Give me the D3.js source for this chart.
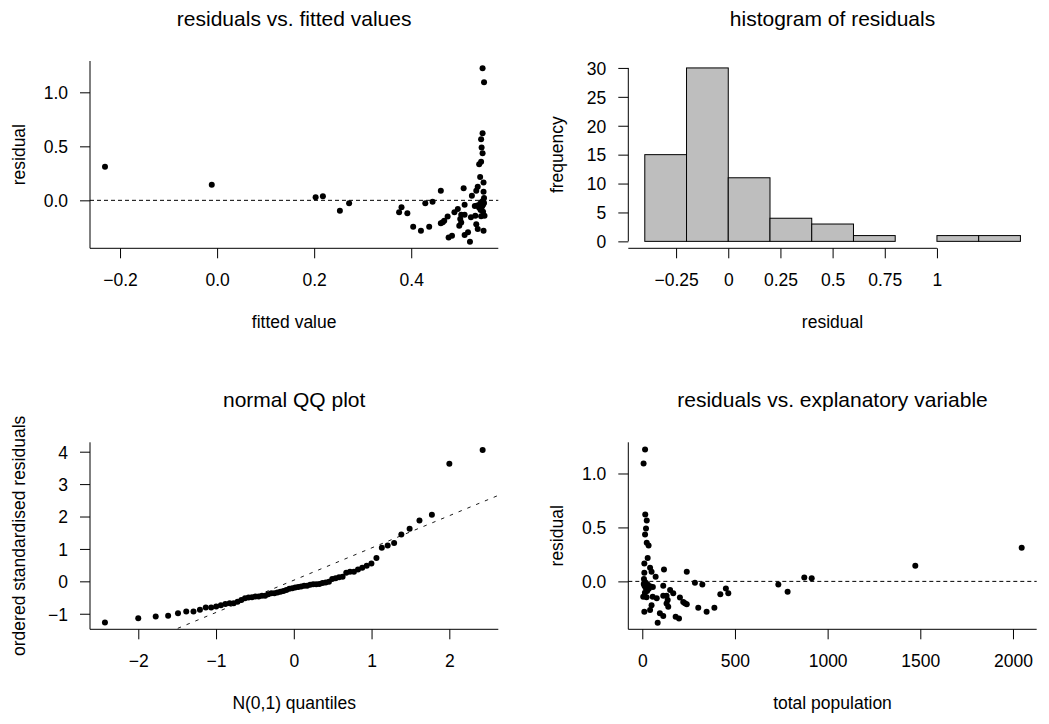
<!DOCTYPE html>
<html><head><meta charset="utf-8">
<script src="https://cdn.jsdelivr.net/npm/d3@7"></script>
<style>body{margin:0;background:#fff} svg text{font-family:"Liberation Sans",Arial,sans-serif}</style>
</head><body><svg id="c" width="1049" height="724"></svg>
<script>
// ---------------- data ----------------
const population = [7,15,16,24,20,15,24,34,2047,29,11,1473,42,117,50,240,11,72,874,914,9,13,20,8,284,734,324,30,12,113,45,57,18,451,35,150,26,784,14,464,167,421,113,131,5,56,23,203,78,137,221,131,230,240,50,140,302,389,42,11,347,95,113,180,198,83];
const residuals = [1.093,1.222,0.620,0.565,0.490,0.435,0.357,0.333,0.312,0.216,0.166,0.145,0.126,0.111,0.089,0.089,0.080,0.043,0.037,0.028,0.022,-0.004,-0.015,-0.025,-0.012,-0.028,-0.028,-0.032,-0.040,-0.040,-0.048,-0.052,-0.058,-0.065,-0.068,-0.080,-0.090,-0.096,-0.105,-0.111,-0.111,-0.120,-0.133,-0.133,-0.142,-0.142,-0.148,-0.150,-0.157,-0.173,-0.190,-0.205,-0.203,-0.212,-0.222,-0.235,-0.244,-0.244,-0.265,-0.281,-0.281,-0.296,-0.321,-0.327,-0.343,-0.383];
const fittedValues = [0.550,0.547,0.547,0.544,0.545,0.547,0.544,0.540,-0.231,0.542,0.549,-0.011,0.537,0.508,0.534,0.461,0.549,0.525,0.218,0.203,0.550,0.548,0.545,0.550,0.444,0.272,0.429,0.542,0.548,0.510,0.536,0.531,0.546,0.380,0.540,0.496,0.543,0.253,0.548,0.375,0.489,0.392,0.510,0.503,0.551,0.532,0.544,0.475,0.523,0.501,0.468,0.503,0.465,0.461,0.534,0.499,0.437,0.404,0.537,0.549,0.420,0.517,0.510,0.484,0.477,0.521];
const histBreaks = [-0.4,-0.2,0,0.2,0.4,0.6,0.8,1.0,1.2,1.4];
const histCounts = [15,30,11,4,3,1,0,1,1];
const residualSD = 0.3015;
const qqLineIntercept = 0.035;
const qqLineSlope = 0.995;
const fittedTicks = [-0.2,0,0.2,0.4];
const residTicks = [0,0.5,1.0];
const histXTicks = [-0.25,0,0.25,0.5,0.75,1];
const histXLabels = ["\u22120.25","0","0.25","0.5","0.75","1"];
const histYTicks = [0,5,10,15,20,25,30];
const qqXTicks = [-2,-1,0,1,2];
const qqYTicks = [-1,0,1,2,3,4];
const popTicks = [0,500,1000,1500,2000];

// ---------------- layout ----------------
const svg = d3.select("#c");
svg.append("rect").attr("width",1049).attr("height",724).attr("fill","#fff");
const L1 = 90, R1 = 498.3, L2 = 628.3, R2 = 1036.7;
const T1 = 61, B1 = 248.3, T2 = 442.3, B2 = 629.3;
const FS = 17.5, TFS = 21;
const minus = s => String(s).replace(/-/g, "\u2212");

function bottomAxis(scale, ticks, fmt, yPos) {
  const ax = svg.append("g").attr("transform", `translate(0,${yPos})`)
    .call(d3.axisBottom(scale).tickValues(ticks).tickFormat(fmt).tickSize(10).tickSizeOuter(0));
  ax.select(".domain").remove();
  ax.attr("font-size", null).attr("font-family", null);
  ax.selectAll(".tick line").attr("stroke", "#000");
  ax.selectAll(".tick text").attr("y", 37.3).attr("dy", null).attr("font-size", FS).attr("fill", "#000");
  return ax;
}
function leftAxis(scale, ticks, fmt, xPos) {
  const ax = svg.append("g").attr("transform", `translate(${xPos},0)`)
    .call(d3.axisLeft(scale).tickValues(ticks).tickFormat(fmt).tickSize(10).tickPadding(12).tickSizeOuter(0));
  ax.select(".domain").remove();
  ax.attr("font-size", null).attr("font-family", null);
  ax.selectAll(".tick line").attr("stroke", "#000");
  ax.selectAll(".tick text").attr("dy", "0.36em").attr("font-size", FS).attr("fill", "#000");
  return ax;
}
function line(x1, y1, x2, y2, dash) {
  const l = svg.append("line").attr("x1", x1).attr("y1", y1).attr("x2", x2).attr("y2", y2)
    .attr("stroke", "#000").attr("stroke-width", 1);
  if (dash) l.attr("stroke-dasharray", dash);
  return l;
}
function lShape(l, r, t, b) { line(l, t, l, b); line(l, b, r, b); }
function title(txt, cx, y) {
  svg.append("text").attr("x", cx).attr("y", y).attr("text-anchor", "middle").attr("font-size", TFS).text(txt);
}
function xlab(txt, cx, y) {
  svg.append("text").attr("x", cx).attr("y", y).attr("text-anchor", "middle").attr("font-size", FS).text(txt);
}
function ylab(txt, x, cy) {
  svg.append("text").attr("transform", `translate(${x},${cy}) rotate(-90)`).attr("text-anchor", "middle")
    .attr("font-size", FS).text(txt);
}
function points(data, x, y, fx, fy) {
  svg.append("g").selectAll("circle").data(data).join("circle")
    .attr("cx", d => x(fx(d))).attr("cy", d => y(fy(d))).attr("r", 3).attr("fill", "#000");
}
const idx = d3.range(residuals.length);

// ---------------- panel 1: residuals vs fitted ----------------
{
  const x = d3.scaleLinear().domain([-0.2619, 0.5794]).range([L1, R1]);
  const y = d3.scaleLinear().domain([-0.444, 1.290]).range([B1, T1]);
  lShape(L1, R1, T1, B1);
  bottomAxis(x, fittedTicks, d => minus(d3.format(".1f")(d)), B1);
  leftAxis(y, residTicks, d => minus(d3.format(".1f")(d)), L1);
  line(L1, y(0), R1, y(0), "4,3");
  points(idx, x, y, i => fittedValues[i], i => residuals[i]);
  title("residuals vs. fitted values", (L1 + R1) / 2, T1 - 35);
  xlab("fitted value", (L1 + R1) / 2, B1 + 80);
  ylab("residual", L1 - 65.5, (T1 + B1) / 2);
}

// ---------------- panel 2: histogram ----------------
{
  const x = d3.scaleLinear().domain([-0.479, 1.478]).range([L2, R2]);
  const y = d3.scaleLinear().domain([-1.2, 31.2]).range([B1, T1]);
  const bins = histCounts.map((c, i) => ({x0: histBreaks[i], x1: histBreaks[i + 1], c}));
  svg.append("g").selectAll("rect").data(bins.filter(b => b.c > 0)).join("rect")
    .attr("x", b => x(b.x0)).attr("width", b => x(b.x1) - x(b.x0))
    .attr("y", b => y(b.c)).attr("height", b => y(0) - y(b.c))
    .attr("fill", "#bebebe").attr("stroke", "#000").attr("stroke-width", 1);
  line(L2, y(0), L2, y(30));
  line(L2, B1, x(1), B1);
  bottomAxis(x, histXTicks, (d, i) => histXLabels[i], B1);
  leftAxis(y, histYTicks, d3.format("d"), L2);
  title("histogram of residuals", (L2 + R2) / 2, T1 - 35);
  xlab("residual", (L2 + R2) / 2, B1 + 80);
  ylab("frequency", L2 - 65.5, (T1 + B1) / 2);
}

// ---------------- panel 3: normal QQ plot ----------------
{
  // inverse standard normal CDF (Acklam) for theoretical quantiles
  function qnorm(p) {
    const a = [-39.6968302866538, 220.946098424521, -275.928510446969, 138.357751867269, -30.6647980661472, 2.50662827745924];
    const b = [-54.4760987982241, 161.585836858041, -155.698979859887, 66.8013118877197, -13.2806815528857];
    const c = [-0.00778489400243029, -0.322396458041136, -2.40075827716184, -2.54973253934373, 4.37466414146497, 2.93816398269878];
    const d = [0.00778469570904146, 0.32246712907004, 2.445134137143, 3.75440866190742];
    const pl = 0.02425;
    let q, r;
    if (p < pl) { q = Math.sqrt(-2 * Math.log(p));
      return (((((c[0]*q+c[1])*q+c[2])*q+c[3])*q+c[4])*q+c[5]) / ((((d[0]*q+d[1])*q+d[2])*q+d[3])*q+1); }
    if (p > 1 - pl) { q = Math.sqrt(-2 * Math.log(1 - p));
      return -(((((c[0]*q+c[1])*q+c[2])*q+c[3])*q+c[4])*q+c[5]) / ((((d[0]*q+d[1])*q+d[2])*q+d[3])*q+1); }
    q = p - 0.5; r = q * q;
    return (((((a[0]*r+a[1])*r+a[2])*r+a[3])*r+a[4])*r+a[5])*q / (((((b[0]*r+b[1])*r+b[2])*r+b[3])*r+b[4])*r+1);
  }
  const n = residuals.length;
  const sorted = residuals.map(r => r / residualSD).sort(d3.ascending);
  const qq = sorted.map((v, i) => ({q: qnorm((i + 0.5) / n), v}));
  const x = d3.scaleLinear().domain([-2.621, 2.63]).range([L1, R1]);
  const y = d3.scaleLinear().domain([-1.48, 4.29]).range([B2, T2]);
  svg.append("clipPath").attr("id", "qqclip").append("rect")
    .attr("x", L1).attr("y", T2).attr("width", R1 - L1).attr("height", B2 - T2);
  const xs = x.domain();
  line(x(xs[0]), y(qqLineIntercept + qqLineSlope * xs[0]), x(xs[1]), y(qqLineIntercept + qqLineSlope * xs[1]), "3.5,6")
    .attr("clip-path", "url(#qqclip)").attr("stroke-width", 0.9);
  lShape(L1, R1, T2, B2);
  bottomAxis(x, qqXTicks, d => minus(d), B2);
  leftAxis(y, qqYTicks, d => minus(d), L1);
  points(qq, x, y, d => d.q, d => d.v);
  title("normal QQ plot", (L1 + R1) / 2, T2 - 35);
  xlab("N(0,1) quantiles", (L1 + R1) / 2, B2 + 80);
  ylab("ordered standardised residuals", L1 - 65.5, (T2 + B2) / 2);
}

// ---------------- panel 4: residuals vs explanatory ----------------
{
  const x = d3.scaleLinear().domain([-75.5, 2128]).range([L2, R2]);
  const y = d3.scaleLinear().domain([-0.444, 1.289]).range([B2, T2]);
  lShape(L2, R2, T2, B2);
  bottomAxis(x, popTicks, d3.format("d"), B2);
  leftAxis(y, residTicks, d => minus(d3.format(".1f")(d)), L2);
  line(L2, y(0), R2, y(0), "4,3");
  points(idx, x, y, i => population[i], i => residuals[i]);
  title("residuals vs. explanatory variable", (L2 + R2) / 2, T2 - 35);
  xlab("total population", (L2 + R2) / 2, B2 + 80);
  ylab("residual", L2 - 65.5, (T2 + B2) / 2);
}
</script></body></html>
